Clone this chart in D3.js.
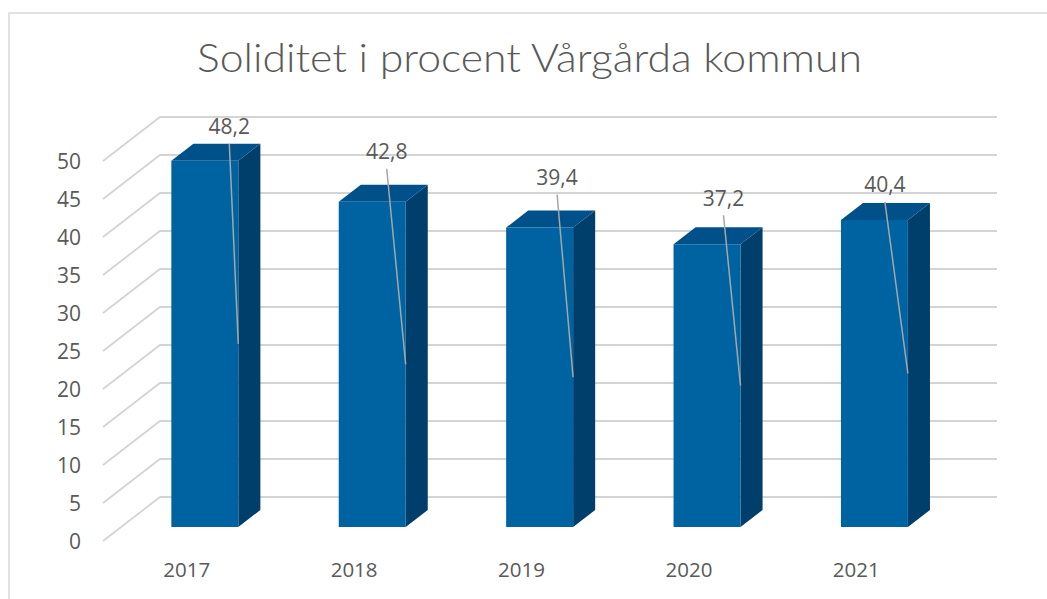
<!DOCTYPE html>
<html>
<head>
<meta charset="utf-8">
<script src="https://cdn.jsdelivr.net/npm/d3@7"></script>
<style>
html,body{margin:0;padding:0;background:#fff;}
svg{display:block;}
</style>
</head>
<body>
<svg id="chart" width="1047" height="599"></svg>
<script>
// ---- data ----
const categories = ["2017", "2018", "2019", "2020", "2021"];
const values = [48.2, 42.8, 39.4, 37.2, 40.4];
const valueLabels = ["48,2", "42,8", "39,4", "37,2", "40,4"];
const yTicks = [0, 5, 10, 15, 20, 25, 30, 35, 40, 45, 50];
const titleText = "Soliditet i procent Vårgårda kommun";
// manually moved data labels (offset from bar's front-right top corner)
const labelNudgeX = [-9, -19, -16, -17, -23];
const labelNudgeY = [-34, -50, -50, -46, -35];

// ---- layout ----
const svg = d3.select("#chart");
const originX = 103, originY = 541;   // front-left floor corner
const depthX = 57, depthY = 44;       // oblique depth offset
const plotW = 837, plotH = 380;
const f0 = 0.318, f1 = 0.705;         // bar depth range

const x = d3.scaleBand().domain(categories).range([0, plotW]).paddingInner(0.6).paddingOuter(0.3);
const y = d3.scaleLinear().domain([0, 50]).range([0, plotH]);
const P = (u, v, f) => [originX + u + depthX * f, originY - y(v) - depthY * f];

const textColor = "#595959";
const gridColor = "#d4d4d4";

// border
svg.append("path").attr("d", "M9,599 L9,13 L1047,13")
  .attr("fill", "none").attr("stroke", "#d9d9d9").attr("stroke-width", 1.5);

// title
svg.append("text").text(titleText)
  .attr("x", 529.5).attr("y", 72).attr("text-anchor", "middle")
  .attr("font-family", "Lato, 'Open Sans', sans-serif").attr("font-weight", 300)
  .attr("font-size", 40).attr("fill", textColor)
  .attr("textLength", 665).attr("lengthAdjust", "spacingAndGlyphs");

// gridlines: side wall diagonals + back wall
const grid = svg.append("g").attr("stroke", gridColor).attr("stroke-width", 1.8).attr("fill", "none");
yTicks.forEach(v => {
  const a = P(0, v, 0), b = P(0, v, 1), c = P(plotW, v, 1);
  grid.append("path").attr("d", `M${a[0]},${a[1]} L${b[0]},${b[1]} L${c[0]},${c[1]}`);
});

// y axis labels (front edge)
const yFront = d3.scaleLinear().domain([0, 50]).range([originY, originY - plotH]);
const yAxisG = svg.append("g").attr("transform", "translate(81,0)")
  .call(d3.axisLeft(yFront).tickValues(yTicks).tickSize(0).tickPadding(0));
yAxisG.select(".domain").remove();
yAxisG.selectAll("text").attr("font-family", "'Open Sans', sans-serif")
  .attr("font-size", 21).attr("fill", textColor).attr("dy", "0.35em");

// x axis labels
const xAxisG = svg.append("g").attr("transform", `translate(${originX},560)`)
  .call(d3.axisBottom(x).tickSize(0).tickPadding(0));
xAxisG.select(".domain").remove();
xAxisG.selectAll("text").attr("font-family", "'Open Sans', sans-serif")
  .attr("font-size", 20.5).attr("fill", textColor).attr("dy", "0.35em").attr("y", 10);

// bars
const poly = pts => "M" + pts.map(p => p.join(",")).join(" L") + " Z";
const bars = svg.append("g");
categories.forEach((c, i) => {
  const v = values[i];
  const u0 = x(c), u1 = x(c) + x.bandwidth();
  const g = bars.append("g");
  g.append("path").attr("d", poly([P(u1, 0, f0), P(u1, v, f0), P(u1, v, f1), P(u1, 0, f1)]))
    .attr("fill", "#003e6c");
  g.append("path").attr("d", poly([P(u0, v, f0), P(u1, v, f0), P(u1, v, f1), P(u0, v, f1)]))
    .attr("fill", "#00508a");
  g.append("path").attr("d", poly([P(u0, 0, f0), P(u1, 0, f0), P(u1, v, f0), P(u0, v, f0)]))
    .attr("fill", "#0063a1");
});

// data labels with leader lines
const labels = svg.append("g");
categories.forEach((c, i) => {
  const v = values[i];
  const u1 = x(c) + x.bandwidth();
  const corner = P(u1, v, f0);
  const lx = corner[0] + labelNudgeX[i], ly = corner[1] + labelNudgeY[i];
  const end = P(u1, v / 2, f0);
  labels.append("line").attr("x1", lx).attr("y1", ly + 17).attr("x2", end[0]).attr("y2", end[1])
    .attr("stroke", "#a6a6a6").attr("stroke-width", 1.5);
  labels.append("text").text(valueLabels[i]).attr("x", lx).attr("y", ly).attr("dy", "0.35em")
    .attr("text-anchor", "middle").attr("font-family", "'Open Sans', sans-serif")
    .attr("font-size", 21).attr("fill", textColor);
});
</script>
</body>
</html>
